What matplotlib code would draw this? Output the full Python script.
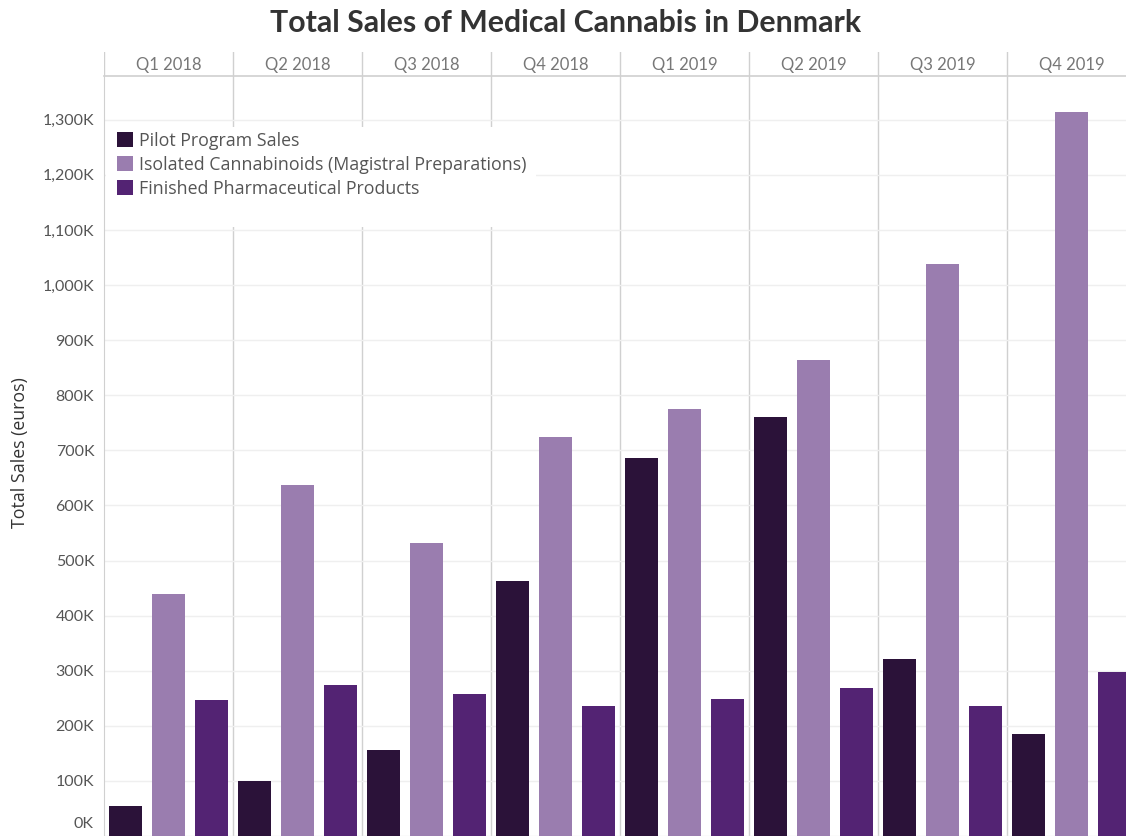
import matplotlib
matplotlib.use('Agg')
import matplotlib.pyplot as plt
from matplotlib.patches import Rectangle, Patch

quarters = ['Q1 2018', 'Q2 2018', 'Q3 2018', 'Q4 2018',
            'Q1 2019', 'Q2 2019', 'Q3 2019', 'Q4 2019']
series_names = ['Pilot Program Sales',
                'Isolated Cannabinoids (Magistral Preparations)',
                'Finished Pharmaceutical Products']
# values in thousands of euros
pilot = [54, 100, 156, 463, 686, 760, 321, 185]
isolated = [439, 637, 532, 724, 775, 864, 1038, 1314]
finished = [247, 274, 258, 236, 249, 269, 236, 298]
y_ticks = list(range(0, 1400, 100))

colors = ['#2b1239', '#9a7daf', '#532373']
FONT = 'Lato'
FONT2 = 'Open Sans'

W, H = 1126, 836
fig = plt.figure(figsize=(W / 100, H / 100), dpi=100)
fig.patch.set_facecolor('white')

left_px, right_px, top_px, bottom_px = 104, 1136, 76, 836
ax = fig.add_axes([left_px / W, 1 - bottom_px / H, (right_px - left_px) / W,
                   (bottom_px - top_px) / H])

n = len(quarters)
series = [pilot, isolated, finished]
for i, (vals, c) in enumerate(zip(series, colors)):
    xs = [q * 3 + i + 0.5 for q in range(n)]
    ax.bar(xs, vals, width=0.767, color=c, zorder=3, linewidth=0)

ax.set_xlim(0, 3 * n)
ax.set_ylim(0, (bottom_px - top_px) / 0.551)
ax.set_xticks([])
ax.set_yticks(y_ticks)
labels = [f'{v:,}K' if v != 0 else '' for v in y_ticks]
ax.set_yticklabels(labels, fontsize=11.5, color='#555555', family=FONT)
ax.tick_params(axis='y', length=0, pad=7)
# bottom label nudged up so it stays inside the figure
ax.annotate('0K', xy=(0, 0), xycoords=('axes fraction', 'data'),
            xytext=(-10, 12), textcoords='offset pixels', ha='right',
            va='center', fontsize=11.5, color='#555555', family=FONT)
ax.grid(axis='y', color='#efefef', linewidth=1, zorder=0)
for s in ['top', 'right', 'bottom']:
    ax.spines[s].set_visible(False)
ax.spines['left'].set_color('#d0d0d0')
for q in range(1, n):
    ax.axvline(q * 3, color='#d0d0d0', linewidth=1, zorder=1)
fig.text(20 / W, 1 - 453 / H, 'Total Sales (euros)', rotation=90,
         ha='center', va='center', fontsize=12.8, color='#333333',
         family=FONT2)

# header row
hax = fig.add_axes([left_px / W, 1 - top_px / H, (right_px - left_px) / W,
                    24 / H])
hax.set_xlim(0, 3 * n)
hax.set_ylim(0, 1)
hax.axis('off')
for q in range(n):
    hax.axvline(q * 3, color='#d0d0d0', linewidth=1)
    hax.text(q * 3 + 1.5, 0.45, quarters[q], ha='center', va='center',
             fontsize=12, color='#777777', family=FONT)
hax.axhline(0, color='#d0d0d0', linewidth=1.2, clip_on=False)

# title
fig.text(566 / W, 1 - 23 / H, 'Total Sales of Medical Cannabis in Denmark',
         ha='center', va='center', fontsize=21.8, fontweight='bold',
         color='#333333', family=FONT)

# legend with white background box
fig.patches.append(Rectangle((106 / W, 1 - 227 / H), (536 - 106) / W, 100 / H,
                             transform=fig.transFigure, facecolor='white',
                             edgecolor='none', zorder=2))
handles = [Patch(facecolor=c, edgecolor='none') for c in colors]
leg = fig.legend(handles, series_names, loc='upper left',
                 bbox_to_anchor=(117 / W, 1 - 132 / H), frameon=False,
                 borderpad=0, borderaxespad=0, handlelength=0.92,
                 handleheight=0.92, handletextpad=0.3, labelspacing=0.33,
                 prop={'family': FONT2, 'size': 12.8})
for t in leg.get_texts():
    t.set_color('#555555')
leg.set_zorder(3)

fig.savefig('out.png', dpi=100, facecolor='white')
